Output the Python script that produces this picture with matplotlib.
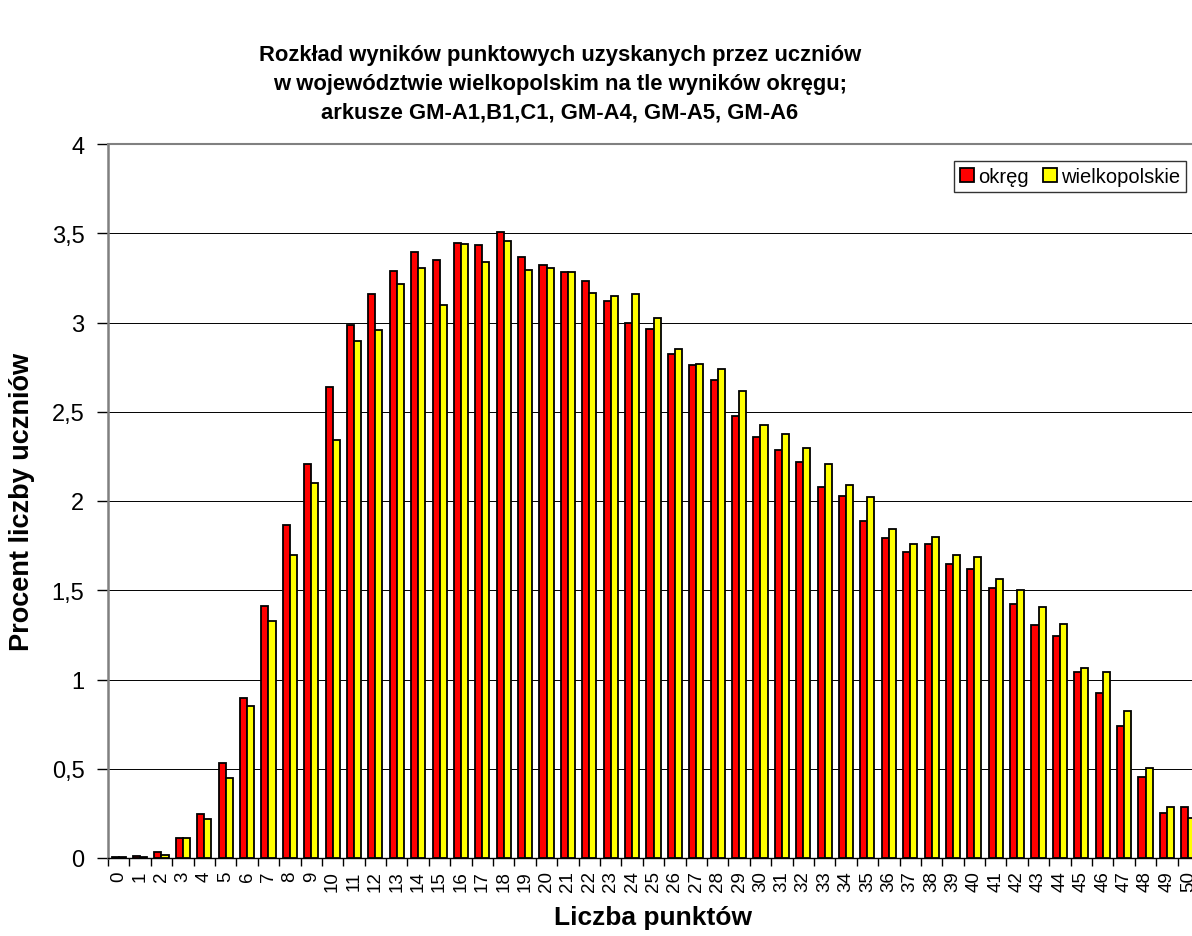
import matplotlib
matplotlib.use("Agg")
import matplotlib.pyplot as plt
import matplotlib.ticker as ticker
import numpy as np

plt.rcParams['font.family'] = ['Liberation Sans', 'DejaVu Sans']

# ---------------------------
# Data
# ---------------------------
points = list(range(0, 51))
okreg = [0.005, 0.01, 0.033, 0.113, 0.247, 0.535, 0.895, 1.409, 1.864, 2.208,
         2.636, 2.985, 3.160, 3.289, 3.396, 3.352, 3.446, 3.432, 3.509, 3.366,
         3.322, 3.281, 3.234, 3.122, 2.996, 2.963, 2.823, 2.762, 2.677, 2.477,
         2.359, 2.287, 2.216, 2.079, 2.029, 1.886, 1.793, 1.716, 1.757, 1.647,
         1.620, 1.510, 1.422, 1.307, 1.244, 1.041, 0.923, 0.741, 0.456, 0.253,
         0.283]
wielkopolskie = [0.003, 0.005, 0.016, 0.113, 0.217, 0.450, 0.851, 1.326, 1.697, 2.100,
                 2.342, 2.894, 2.960, 3.215, 3.306, 3.100, 3.438, 3.339, 3.457, 3.295,
                 3.306, 3.284, 3.166, 3.149, 3.158, 3.026, 2.853, 2.765, 2.738, 2.614,
                 2.427, 2.375, 2.295, 2.205, 2.089, 2.024, 1.845, 1.757, 1.796, 1.700,
                 1.686, 1.562, 1.499, 1.406, 1.310, 1.065, 1.041, 0.826, 0.502, 0.283,
                 0.222]
series_names = ["okręg", "wielkopolskie"]
series_colors = ["#FF0000", "#FFFF00"]

title = ("Rozkład wyników punktowych uzyskanych przez uczniów\n"
         "w województwie wielkopolskim na tle wyników okręgu;\n"
         "arkusze GM-A1,B1,C1, GM-A4, GM-A5, GM-A6")

# ---------------------------
# Figure (plot area runs slightly past the right edge, as in the original)
# ---------------------------
W, H = 1192, 937
fig = plt.figure(figsize=(W / 100, H / 100), dpi=100)
ax = fig.add_axes([108 / W, 78 / H, 1091 / W, 714 / H])

x = np.arange(len(points))
width = 0.33
ax.bar(x - width / 2, okreg, width, color=series_colors[0], edgecolor="black",
       linewidth=1.3, label=series_names[0], zorder=3)
ax.bar(x + width / 2, wielkopolskie, width, color=series_colors[1], edgecolor="black",
       linewidth=1.3, label=series_names[1], zorder=3)

ax.set_xlim(-0.5, len(points) - 0.5)
ax.set_ylim(0, 4)

# y axis
ax.yaxis.set_major_locator(ticker.MultipleLocator(0.5))
ax.yaxis.set_major_formatter(ticker.FuncFormatter(
    lambda v, p: ("%g" % v).replace(".", ",")))
ax.tick_params(axis="y", direction="out", length=8, width=1, pad=9, labelsize=17)
ax.yaxis.grid(True, color="black", linewidth=0.7, zorder=0)

# x axis: ticks on boundaries, labels at centres
ax.set_xticks(np.arange(-0.5, len(points), 1.0))
ax.set_xticklabels([])
ax.set_xticks(x, minor=True)
ax.set_xticklabels([str(p) for p in points], minor=True, rotation=90,
                   fontsize=13.5)
ax.tick_params(axis="x", which="major", direction="out", length=6, width=1)
ax.tick_params(axis="x", which="minor", length=0, pad=9)

ax.spines["right"].set_visible(False)
ax.spines["top"].set_color("#808080")
ax.spines["top"].set_linewidth(1.5)
ax.spines["left"].set_color("#808080")
ax.spines["left"].set_linewidth(1.8)
ax.spines["bottom"].set_color("black")
ax.spines["bottom"].set_linewidth(1.0)

fig.text(560 / W, 1 - 45 / H, title, ha="center", va="top", fontsize=15.8,
         fontweight="bold", linespacing=1.48)
fig.text(22 / W, 1 - 502 / H, "Procent liczby uczniów", rotation=90,
         ha="center", va="center", fontsize=19.5, fontweight="bold")
fig.text(653 / W, 1 - 918 / H, "Liczba punktów", ha="center", va="center",
         fontsize=19, fontweight="bold")

leg = fig.legend(loc="upper right", bbox_to_anchor=(1186 / W, 1 - 162 / H),
                 ncol=2, fontsize=14.5, frameon=True, fancybox=False,
                 handlelength=0.7, handleheight=0.7, handletextpad=0.2,
                 columnspacing=0.7, borderpad=0.3, borderaxespad=0)
leg.get_frame().set_edgecolor("black")
leg.get_frame().set_linewidth(1.0)

fig.savefig("out.png", dpi=100)
